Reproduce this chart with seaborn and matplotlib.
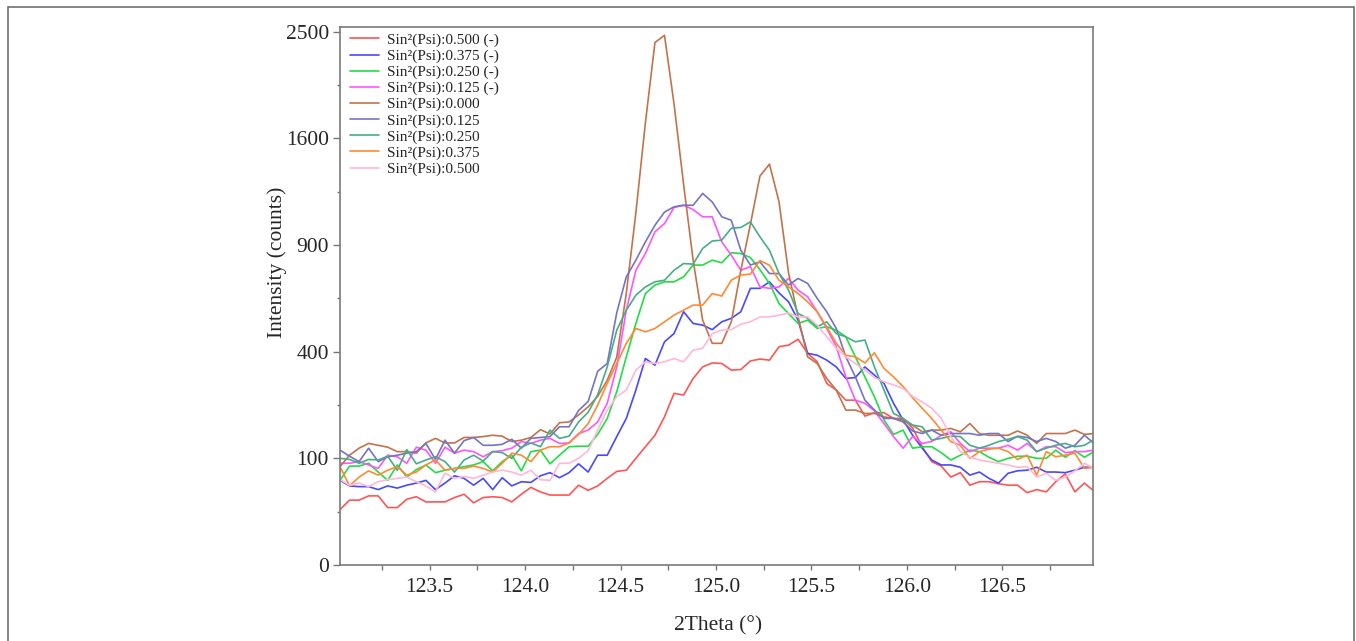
import numpy as np
import pandas as pd
import matplotlib
matplotlib.use("Agg")
import matplotlib.pyplot as plt
from matplotlib.ticker import FixedLocator, NullFormatter
import seaborn as sns

# ---------------- data ----------------
two_theta = np.round(123.03 + 0.05 * np.arange(80), 2)

labels = ["Sin²(Psi):0.500 (-)", "Sin²(Psi):0.375 (-)", "Sin²(Psi):0.250 (-)",
          "Sin²(Psi):0.125 (-)", "Sin²(Psi):0.000", "Sin²(Psi):0.125",
          "Sin²(Psi):0.250", "Sin²(Psi):0.375", "Sin²(Psi):0.500"]

psi_m0500 = [27, 37, 37, 42, 42, 29, 29, 38, 41, 35, 35, 35, 40, 44, 34, 40, 41, 40, 35, 44,
             53, 47, 43, 43, 43, 56, 49, 55,
             66, 77, 79, 100, 123, 148, 193, 259, 254, 306, 345, 359, 357, 334, 336, 366, 373,
             369, 419, 425, 448, 394, 363, 290, 269, 239, 239, 195, 204, 204, 189, 189, 165,
             123, 94, 86, 68, 75, 56, 61, 61, 58, 56, 56, 46, 50, 47, 61, 73, 47, 59, 48]
psi_m0375 = [63, 55, 54, 54, 50, 55, 52, 56, 59, 63, 50, 59, 70, 66, 56, 66, 50, 67, 55, 61,
             60, 70, 75, 67, 75, 90, 76, 106,
             106, 145, 189, 269, 375, 351, 438, 471, 564, 513, 506, 487, 520, 535, 564, 673, 673,
             705, 651, 609, 527, 394, 387, 369, 345, 306, 309, 345, 317, 290, 230, 185, 148,
             120, 97, 88, 88, 84, 71, 76, 66, 59, 74, 78, 79, 84, 76, 76, 75, 79, 84, 84]
psi_m0250 = [63, 86, 86, 91, 76, 63, 88, 68, 80, 88, 75, 79, 82, 85, 88, 94, 78, 94, 106, 78,
             113, 116, 90, 106, 123, 124, 124, 150,
             189, 264, 381, 513, 648, 689, 705, 705, 730, 791, 791, 817, 803, 857, 853, 831, 767,
             697, 601, 556, 513, 527, 492, 499, 485, 458, 381, 311, 249, 185, 150, 160, 120,
             123, 123, 111, 97, 106, 116, 113, 102, 94, 100, 104, 104, 100, 100, 116, 102, 115, 102, 113]
psi_m0125 = [91, 91, 94, 88, 82, 106, 103, 91, 122, 116, 91, 122, 110, 116, 113, 103, 113, 115, 120, 134,
             130, 137, 141, 130, 131, 152, 160, 180,
             230, 345, 571, 764, 853, 976, 1025, 1124, 1138, 1111, 1066, 1066, 918, 844, 764, 783, 680,
             673, 680, 722, 664, 633, 564, 492, 419, 311, 239, 230, 209, 176, 145, 120, 145,
             130, 134, 148, 156, 130, 113, 120, 120, 120, 126, 116, 130, 113, 123, 123, 111, 113, 113, 116]
psi_0000 = [85, 106, 120, 130, 126, 122, 113, 113, 110, 131, 141, 131, 131, 143, 143, 145, 148, 146, 134, 137,
            143, 161, 151, 178, 180, 198, 220, 250,
            300, 380, 650, 1090, 1720, 2400, 2467, 1870, 1275, 817, 527, 432, 432, 520, 764, 1020, 1330,
            1413, 1160, 750,
            541, 381, 357, 306, 269, 211, 211, 202, 202, 193, 189, 185,
            172, 156, 160, 160, 164, 156, 176, 152, 148, 148, 148, 158, 148, 130, 152, 152, 152, 160, 150, 152]
psi_p0125 = [116, 104, 94, 120, 94, 103, 106, 110, 113, 130, 98, 137, 110, 136, 143, 126, 126, 128, 139, 120,
             141, 143, 145, 168, 168, 210, 235, 330,
             357, 560, 730, 817, 918, 1015, 1095, 1128, 1138, 1138, 1214, 1159, 1066, 1045, 871, 791, 808,
             747, 747, 689, 722, 697, 625, 564, 492, 381, 311, 239, 211, 189, 189, 180,
             158, 152, 160, 148, 152, 152, 152, 148, 152, 152, 134, 146, 143, 134, 141, 134, 120, 126, 148, 130]
psi_p0250 = [100, 98, 91, 98, 97, 104, 79, 117, 90, 97, 103, 94, 76, 97, 106, 95, 113, 111, 100, 122,
             131, 123, 160, 141, 146, 180, 205, 255,
             345, 485, 571, 640, 680, 705, 713, 764, 799, 796, 881, 923, 928, 997, 1002, 1035, 947,
             871, 747, 664, 556, 535, 499, 520, 471, 458, 438, 445, 345, 269, 202, 189, 172,
             168, 137, 141, 146, 145, 126, 120, 126, 134, 139, 145, 137, 113, 120, 126, 130, 123, 126, 138]
psi_p0375 = [85, 55, 68, 78, 71, 79, 85, 71, 76, 88, 97, 79, 82, 82, 86, 82, 76, 91, 110, 106,
             94, 116, 123, 123, 131, 150, 176, 225,
             290, 357, 432, 492, 478, 492, 520, 549, 571, 594, 594, 648, 636, 713, 739, 744, 815,
             790, 713, 680, 648, 609, 564, 499, 432, 387, 381, 359, 396, 340, 311, 280, 246,
             216, 189, 160, 134, 126, 100, 113, 118, 120, 113, 98, 106, 71, 113, 103, 106, 110, 82, 84]
psi_p0500 = [64, 56, 59, 54, 61, 64, 66, 68, 61, 55, 47, 74, 66, 69, 66, 71, 76, 79, 76, 71,
             79, 64, 63, 91, 91, 100, 115, 160,
             211, 249, 269, 334, 363, 357, 363, 375, 363, 406, 413, 471, 485, 487, 510, 520, 541,
             541, 549, 558, 541, 541, 506, 458, 413, 381, 357, 334, 309, 295, 285, 274, 250,
             234, 216, 189, 145, 113, 102, 97, 94, 91, 88, 84, 85, 68, 74, 63, 68, 78, 91, 82]

series = [psi_m0500, psi_m0375, psi_m0250, psi_m0125, psi_0000,
          psi_p0125, psi_p0250, psi_p0375, psi_p0500]

colors = ["#FF5555", "#4848FF", "#22DD44", "#FF55FF", "#C2734C",
          "#7474C4", "#48AC86", "#FF8A33", "#FFB8D8"]

y_ticks = [0, 100, 400, 900, 1600, 2500]
y_minor = [25, 225, 625, 1225, 2025]
x_ticks = [123.5, 124.0, 124.5, 125.0, 125.5, 126.0, 126.5]

# ---------------- frame ----------------
rows = []
for lab, vals in zip(labels, series):
    for xv, yv in zip(two_theta, vals):
        rows.append((lab, xv, yv))
df = pd.DataFrame(rows, columns=["series", "two_theta", "intensity"])

sns.set_theme(style="white")
plt.rcParams["font.family"] = ["Liberation Serif", "DejaVu Serif"]

W, H = 1356, 641
fig = plt.figure(figsize=(W / 100, H / 100), dpi=100)
ax = fig.add_axes([340 / W, 1 - 565 / H, 753 / W, 538 / H])

sns.lineplot(data=df, x="two_theta", y="intensity", hue="series",
             hue_order=labels, palette=dict(zip(labels, colors)),
             estimator=None, sort=False, lw=1.2, ax=ax)

ax.set_yscale("function", functions=(lambda v: np.sqrt(np.clip(v, 0, None)), np.square))
ax.set_ylim(0, 2545)
ax.set_xlim(123.03, 126.975)

ax.yaxis.set_major_locator(FixedLocator(y_ticks))
ax.yaxis.set_minor_locator(FixedLocator(y_minor))
ax.set_yticklabels([str(t) for t in y_ticks])
ax.yaxis.set_minor_formatter(NullFormatter())
ax.xaxis.set_major_locator(FixedLocator(x_ticks))
ax.xaxis.set_minor_locator(FixedLocator([123.25, 123.75, 124.25, 124.75, 125.25,
                                         125.75, 126.25, 126.75]))
ax.set_xticklabels([f"{t:.1f}" for t in x_ticks])
ax.xaxis.set_minor_formatter(NullFormatter())

ax.tick_params(axis="y", which="major", direction="out", length=5, width=1,
               color="#777777", labelsize=15.5, pad=3, left=True, right=False)
ax.tick_params(axis="y", which="minor", direction="out", length=2.5, width=1,
               color="#777777", left=True, right=False)
ax.tick_params(axis="x", which="both", direction="out", length=3.5, width=1,
               color="#777777", labelsize=15.5, pad=6, bottom=True, top=False)

for sp in ax.spines.values():
    sp.set_visible(True)
    sp.set_color("#7a7a7a")
    sp.set_linewidth(1.2)

ax.set_xlabel("")
ax.set_ylabel("")
fig.text(718 / W, 1 - 626 / H, "2Theta (°)", ha="center", va="center", fontsize=15.5)
fig.text(277 / W, 1 - 262 / H, "Intensity (counts)", ha="center", va="center",
         rotation=90, fontsize=15.5)

handles, labs = ax.get_legend_handles_labels()
ax.legend(handles, labs, loc="upper left", bbox_to_anchor=(10 / 753, 1 - 6 / 538),
          frameon=False, fontsize=11, borderpad=0, borderaxespad=0,
          labelspacing=0.15, handlelength=1.9, handletextpad=0.55)

fig.add_artist(plt.Rectangle((8 / W, -0.05), (1354 - 8) / W, 1 - 7 / H + 0.05,
                             transform=fig.transFigure, fill=False,
                             ec="#707070", lw=1.2))

fig.savefig("out.png", dpi=100)
